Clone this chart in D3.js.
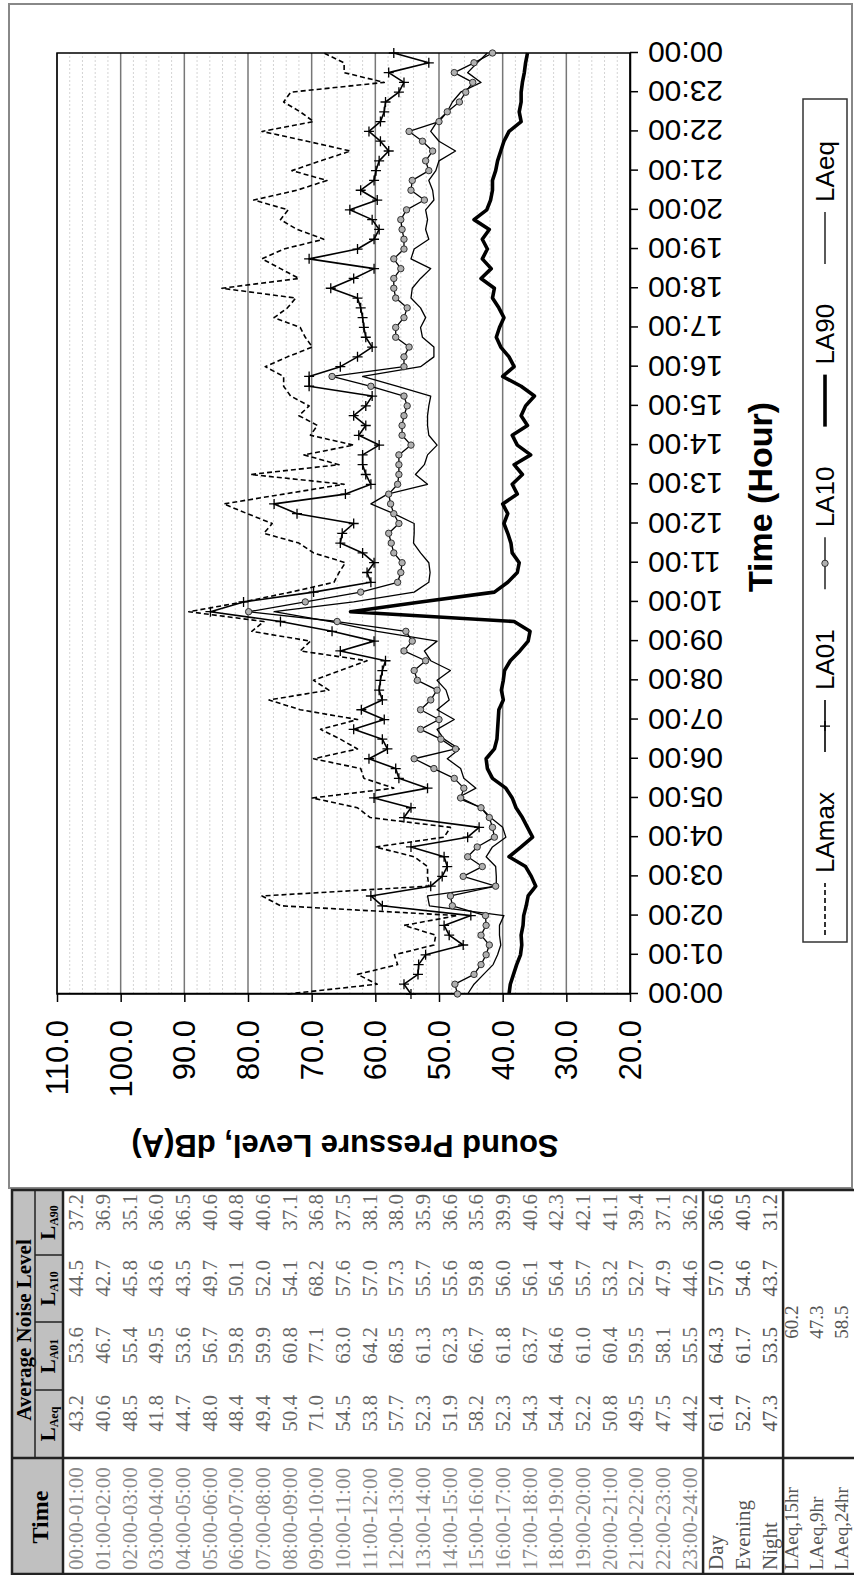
<!DOCTYPE html>
<html>
<head>
<meta charset="utf-8">
<script src="https://cdn.jsdelivr.net/npm/d3@7"></script>
<style>
  body { margin: 0; background: #fff; }
  svg { display: block; }
</style>
</head>
<body>
<div id="chart"></div>
<script>
// ---- data (15 minute samples, 00:00 .. 24:00) ----
const hourLabels = ["00:00","01:00","02:00","03:00","04:00","05:00","06:00","07:00","08:00",
  "09:00","10:00","11:00","12:00","13:00","14:00","15:00","16:00","17:00","18:00","19:00",
  "20:00","21:00","22:00","23:00","00:00"];
const levelTicks = [20, 30, 40, 50, 60, 70, 80, 90, 100, 110];

const laMax = [73.8, 59.7, 62.8, 56.5, 57.0, 50.8, 50.5, 55.5, 47.1, 74.9,
  77.8, 51.6, 51.8, 51.8, 53.9, 60.0, 49.2, 48.2, 60.8, 62.8,
  69.9, 57.1, 61.8, 62.3, 69.7, 62.8, 65.5, 68.6, 62.8, 71.8,
  76.7, 67.3, 69.7, 65.5, 61.3, 71.8, 70.2, 79.4, 77.5, 89.3,
  80.7, 73.3, 66.5, 65.7, 64.7, 69.7, 72.0, 77.5, 76.2, 80.1,
  83.8, 74.4, 64.9, 79.6, 65.7, 71.2, 63.4, 70.2, 69.1, 72.0,
  70.4, 73.3, 74.4, 74.4, 77.3, 73.8, 69.9, 71.0, 71.8, 75.9,
  73.8, 72.5, 84.1, 72.0, 74.9, 77.8, 74.4, 68.1, 72.3, 74.9,
  73.7, 79.1, 72.3, 67.6, 73.1, 68.6, 63.9, 70.7, 77.8, 69.7,
  71.8, 74.4, 73.3, 58.6, 64.9, 64.9, 68.1];
const la01 = [54.4, 55.5, 53.3, 53.2, 52.1, 46.2, 48.4, 49.2, 45.0, 58.9,
  60.7, 51.3, 49.5, 48.7, 49.2, 54.4, 45.5, 43.7, 55.5, 54.4,
  60.2, 51.8, 56.3, 56.8, 61.0, 58.1, 58.9, 63.4, 58.6, 62.2,
  58.9, 59.4, 59.2, 58.9, 58.4, 65.5, 60.2, 66.8, 74.9, 85.9,
  80.7, 69.7, 60.7, 61.3, 60.2, 62.0, 65.5, 65.2, 63.4, 72.3,
  75.9, 64.7, 60.7, 61.5, 62.0, 62.0, 59.4, 62.6, 61.5, 63.4,
  61.5, 60.5, 70.4, 70.4, 65.5, 62.8, 60.5, 61.5, 61.8, 62.0,
  62.3, 62.8, 67.0, 63.4, 60.2, 70.4, 62.8, 60.2, 59.4, 60.5,
  64.0, 59.7, 62.3, 60.2, 59.9, 59.4, 57.9, 59.2, 61.0, 59.2,
  58.6, 58.4, 56.3, 55.5, 57.9, 51.6, 57.1];
const la10 = [47.1, 47.5, 44.5, 43.4, 42.6, 42.1, 43.4, 42.6, 42.7, 47.9,
  48.2, 41.1, 46.2, 43.2, 45.5, 44.0, 41.3, 41.6, 42.1, 43.4,
  46.6, 46.1, 47.6, 50.8, 53.9, 47.4, 49.7, 52.9, 50.0, 52.9,
  51.3, 50.3, 53.4, 53.9, 52.1, 55.5, 54.2, 55.2, 66.0, 79.9,
  71.0, 62.3, 56.5, 56.0, 55.8, 57.1, 57.5, 57.9, 56.3, 57.1,
  57.6, 57.9, 56.5, 56.3, 56.3, 56.3, 54.4, 55.8, 55.8, 55.5,
  55.0, 55.5, 60.7, 66.8, 55.5, 55.5, 54.7, 56.8, 56.8, 55.5,
  55.0, 56.8, 57.1, 57.1, 56.0, 57.1, 55.5, 55.5, 55.8, 56.0,
  55.1, 52.3, 54.4, 54.2, 51.6, 52.1, 51.0, 52.6, 54.7, 50.0,
  48.7, 46.8, 45.8, 44.7, 47.6, 44.5, 41.6];
const la90 = [39.0, 38.8, 38.3, 37.8, 37.2, 37.0, 37.1, 36.8, 36.7, 36.3,
  36.0, 34.8, 35.5, 36.4, 39.0, 37.1, 35.3, 36.1, 36.9, 37.9,
  38.5, 39.5, 41.6, 42.4, 42.6, 41.3, 40.9, 40.8, 40.7, 40.6,
  39.9, 40.2, 39.9, 39.7, 38.8, 37.3, 36.0, 35.7, 38.2, 63.9,
  52.9, 41.3, 39.2, 37.7, 37.4, 38.5, 38.7, 39.2, 39.8, 39.2,
  40.0, 37.7, 38.5, 36.9, 38.2, 35.6, 37.7, 38.5, 36.1, 37.1,
  36.4, 35.0, 37.1, 40.0, 38.2, 39.0, 40.3, 41.0, 40.5, 39.8,
  40.6, 41.6, 41.3, 43.4, 41.8, 43.2, 42.4, 43.2, 42.1, 44.5,
  42.5, 41.9, 41.6, 41.6, 41.1, 40.8, 40.3, 39.8, 39.0, 37.1,
  37.4, 37.1, 37.1, 36.9, 36.6, 36.4, 36.1];
const laEq = [45.5, 44.5, 43.0, 41.5, 40.8, 40.3, 40.5, 40.5, 39.8, 51.5,
  51.8, 41.0, 41.0, 41.1, 42.6, 41.6, 39.5, 40.0, 41.9, 43.4,
  47.1, 44.2, 46.1, 46.6, 48.7, 46.8, 49.2, 50.3, 47.6, 50.3,
  48.4, 48.9, 50.3, 48.2, 51.3, 52.3, 50.3, 59.7, 67.0, 75.9,
  63.4, 53.9, 51.6, 51.4, 51.6, 52.9, 54.0, 53.9, 53.9, 57.1,
  60.7, 58.1, 51.8, 53.7, 52.3, 51.8, 50.3, 51.6, 51.8, 51.8,
  51.6, 51.3, 56.5, 62.0, 52.9, 50.8, 50.8, 52.6, 52.9, 52.1,
  52.9, 54.4, 54.2, 52.9, 51.3, 54.4, 53.9, 51.6, 52.1, 51.8,
  52.1, 50.8, 51.0, 51.6, 50.5, 50.0, 47.4, 50.0, 51.3, 50.3,
  48.7, 47.9, 46.6, 43.4, 45.5, 44.0, 42.4];

// ---- table data ----
const timeRanges = ["00:00-01:00","01:00-02:00","02:00-03:00","03:00-04:00","04:00-05:00",
  "05:00-06:00","06:00-07:00","07:00-08:00","08:00-09:00","09:00-10:00","10:00-11:00",
  "11:00-12:00","12:00-13:00","13:00-14:00","14:00-15:00","15:00-16:00","16:00-17:00",
  "17:00-18:00","18:00-19:00","19:00-20:00","20:00-21:00","21:00-22:00","22:00-23:00",
  "23:00-24:00"];
const hrLAeq = [43.2, 40.6, 48.5, 41.8, 44.7, 48.0, 48.4, 49.4, 50.4, 71.0, 54.5, 53.8,
  57.7, 52.3, 51.9, 58.2, 52.3, 54.3, 54.4, 52.2, 50.8, 49.5, 47.5, 44.2];
const hrLA01 = [53.6, 46.7, 55.4, 49.5, 53.6, 56.7, 59.8, 59.9, 60.8, 77.1, 63.0, 64.2,
  68.5, 61.3, 62.3, 66.7, 61.8, 63.7, 64.6, 61.0, 60.4, 59.5, 58.1, 55.5];
const hrLA10 = [44.5, 42.7, 45.8, 43.6, 43.5, 49.7, 50.1, 52.0, 54.1, 68.2, 57.6, 57.0,
  57.3, 55.7, 55.6, 59.8, 56.0, 56.1, 56.4, 55.7, 53.2, 52.7, 47.9, 44.6];
const hrLA90 = [37.2, 36.9, 35.1, 36.0, 36.5, 40.6, 40.8, 40.6, 37.1, 36.8, 37.5, 38.1,
  38.0, 35.9, 36.6, 35.6, 39.9, 40.6, 42.3, 42.1, 41.1, 39.4, 37.1, 36.2];
const periodNames = ["Day", "Evening", "Night"];
const periodLAeq = [61.4, 52.7, 47.3];
const periodLA01 = [64.3, 61.7, 53.5];
const periodLA10 = [57.0, 54.6, 43.7];
const periodLA90 = [36.6, 40.5, 31.2];
const summaryNames = ["LAeq,15hr", "LAeq,9hr", "LAeq,24hr"];
const summaryValues = [60.2, 47.3, 58.5];

const W = 854, H = 1575;
const fmt = d3.format(".1f");

const svg = d3.select("#chart").append("svg")
  .attr("width", W).attr("height", H);
svg.append("rect").attr("width", W).attr("height", H).attr("fill", "#fff");

// the page is laid out landscape (1575 x 854) and turned a quarter turn anticlockwise
const page = svg.append("g").attr("transform", `translate(0,${H}) rotate(-90)`);

// chart frame
page.append("rect")
  .attr("x", 387).attr("y", 9).attr("width", 1184).attr("height", 843)
  .attr("fill", "none").attr("stroke", "#888").attr("stroke-width", 2);

const plot = { left: 581, right: 1522, top: 57, bottom: 630 };
const x = d3.scaleLinear().domain([0, 24]).range([plot.left, plot.right]);
const y = d3.scaleLinear().domain([20, 110]).range([plot.bottom, plot.top]);

// minor grid every 2 dB
page.append("g")
  .selectAll("line")
  .data(d3.range(22, 110, 2).filter((v) => v % 10 !== 0))
  .join("line")
  .attr("x1", plot.left).attr("x2", plot.right)
  .attr("y1", (d) => y(d)).attr("y2", (d) => y(d))
  .attr("stroke", "#d4d4d4").attr("stroke-width", 1)
  .attr("stroke-dasharray", "2,2");

// major grid
page.append("g")
  .selectAll("line")
  .data(levelTicks)
  .join("line")
  .attr("x1", plot.left).attr("x2", plot.right)
  .attr("y1", (d) => y(d)).attr("y2", (d) => y(d))
  .attr("stroke", "#777").attr("stroke-width", 1.5);

page.append("rect")
  .attr("x", plot.left).attr("y", plot.top)
  .attr("width", plot.right - plot.left).attr("height", plot.bottom - plot.top)
  .attr("fill", "none").attr("stroke", "#000").attr("stroke-width", 1.5);

// X axis (time), labels turned vertical
page.append("g")
  .attr("transform", `translate(0,${plot.bottom})`)
  .call(d3.axisBottom(x).tickValues(d3.range(0, 25)).tickFormat((i) => hourLabels[i])
    .tickSizeInner(8).tickSizeOuter(0))
  .attr("font-family", "'Liberation Sans', Arial, sans-serif")
  .attr("font-size", 30)
  .call((g) => g.select(".domain").attr("stroke", "#000").attr("stroke-width", 1.5))
  .call((g) => g.selectAll(".tick line").attr("stroke", "#000").attr("stroke-width", 1.5))
  .selectAll("text")
  .attr("y", 0).attr("dy", null)
  .attr("transform", "translate(0,18) rotate(-90)")
  .attr("text-anchor", "end")
  .attr("dominant-baseline", "central")
  .attr("fill", "#000");

// Y axis (level)
page.append("g")
  .attr("transform", `translate(${plot.left},0)`)
  .call(d3.axisLeft(y).tickValues(levelTicks).tickFormat(fmt)
    .tickSizeInner(8).tickSizeOuter(0).tickPadding(18))
  .attr("font-family", "'Liberation Sans', Arial, sans-serif")
  .attr("font-size", 31)
  .call((g) => g.select(".domain").attr("stroke", "#000").attr("stroke-width", 1.5))
  .call((g) => g.selectAll(".tick line").attr("stroke", "#000").attr("stroke-width", 1.5))
  .selectAll("text")
  .attr("dy", null)
  .attr("dominant-baseline", "central")
  .attr("fill", "#000");

// axis titles
page.append("text")
  .attr("transform", "translate(430,345) rotate(-90)")
  .attr("text-anchor", "middle").attr("dominant-baseline", "central")
  .attr("font-family", "'Liberation Sans', Arial, sans-serif")
  .attr("font-weight", "bold").attr("font-size", 31)
  .text("Sound Pressure Level, dB(A)");

page.append("text")
  .attr("x", 1078).attr("y", 760)
  .attr("text-anchor", "middle").attr("dominant-baseline", "central")
  .attr("font-family", "'Liberation Sans', Arial, sans-serif")
  .attr("font-weight", "bold").attr("font-size", 34)
  .text("Time (Hour)");

// series
const series = [
  { name: "LAmax", values: laMax, width: 1.6, dash: "5,3", marker: null },
  { name: "LA01", values: la01, width: 1.6, dash: null, marker: "plus" },
  { name: "LA10", values: la10, width: 1.3, dash: null, marker: "circle" },
  { name: "LA90", values: la90, width: 3.6, dash: null, marker: null },
  { name: "LAeq", values: laEq, width: 1.3, dash: null, marker: null },
];

const line = d3.line()
  .x((d, i) => x(i / 4))
  .y((d) => y(d));

const lines = page.append("g").attr("fill", "none");
series.forEach((s) => {
  lines.append("path")
    .datum(s.values)
    .attr("d", line)
    .attr("stroke", "#000")
    .attr("stroke-width", s.width)
    .attr("stroke-dasharray", s.dash)
    .attr("stroke-linejoin", "round");
});

function drawMarkers(g, s, pts) {
  if (s.marker === "plus") {
    g.selectAll("path.mk")
      .data(pts)
      .join("path")
      .attr("class", "mk")
      .attr("d", (d) => `M${d[0] - 5},${d[1]}h10M${d[0]},${d[1] - 5}v10`)
      .attr("stroke", "#000").attr("stroke-width", 1.3);
  } else if (s.marker === "circle") {
    g.selectAll("circle.mk")
      .data(pts)
      .join("circle")
      .attr("class", "mk")
      .attr("cx", (d) => d[0]).attr("cy", (d) => d[1])
      .attr("r", 3.2)
      .attr("fill", "#b0b0b0").attr("stroke", "#333").attr("stroke-width", 1);
  }
}

series.forEach((s) => {
  if (!s.marker) return;
  const g = page.append("g");
  drawMarkers(g, s, s.values.map((v, i) => [x(i / 4), y(v)]));
});

// legend
const legend = page.append("g")
  .attr("font-family", "'Liberation Sans', Arial, sans-serif")
  .attr("font-size", 26);
legend.append("rect")
  .attr("x", 633).attr("y", 803).attr("width", 843).attr("height", 44)
  .attr("fill", "#fff").attr("stroke", "#333").attr("stroke-width", 1.5);

let lx = 640;
const ly = 825;
series.forEach((s) => {
  const item = legend.append("g");
  item.append("line")
    .attr("x1", lx).attr("x2", lx + 52).attr("y1", ly).attr("y2", ly)
    .attr("stroke", "#000").attr("stroke-width", s.width)
    .attr("stroke-dasharray", s.dash);
  drawMarkers(item, s, [[lx + 26, ly]]);
  const t = item.append("text")
    .attr("x", lx + 62).attr("y", ly)
    .attr("dominant-baseline", "central")
    .text(s.name);
  lx += 62 + t.node().getComputedTextLength() + 40;
});

// ---- table ----
const tbl = page.append("g")
  .attr("font-family", "'Liberation Serif', 'Times New Roman', serif");
const tTop = 12, tSplit = 35, tHead = 63, rowH = 26.67;
const colEdges = [0, 117, 185, 253, 320, 385];
const valueRight = [180, 248, 315, 381];
const subLabels = ["Aeq", "A01", "A10", "A90"];

tbl.append("rect").attr("x", 0).attr("y", tTop).attr("width", 117).attr("height", tHead - tTop)
  .attr("fill", "#c0c0c0");
tbl.append("rect").attr("x", 117).attr("y", tTop).attr("width", 268).attr("height", tHead - tTop)
  .attr("fill", "#c0c0c0");

tbl.append("text")
  .attr("x", 58).attr("y", 40)
  .attr("text-anchor", "middle").attr("dominant-baseline", "central")
  .attr("font-weight", "bold").attr("font-size", 24)
  .text("Time");
tbl.append("text")
  .attr("x", 245).attr("y", 24)
  .attr("text-anchor", "middle").attr("dominant-baseline", "central")
  .attr("font-weight", "bold").attr("font-size", 21)
  .text("Average Noise Level");

subLabels.forEach((s, i) => {
  const t = tbl.append("text")
    .attr("x", (colEdges[i + 1] + colEdges[i + 2]) / 2).attr("y", 55)
    .attr("text-anchor", "middle")
    .attr("font-weight", "bold").attr("font-size", 21);
  t.append("tspan").text("L");
  t.append("tspan").attr("font-size", 12).attr("dy", 3).text(s);
});

const hourly = [hrLAeq, hrLA01, hrLA10, hrLA90];
timeRanges.forEach((tr, k) => {
  const cy = tHead + rowH * k + rowH / 2;
  tbl.append("text")
    .attr("x", 5).attr("y", cy)
    .attr("dominant-baseline", "central")
    .attr("font-size", 21).attr("fill", "#8a8a8a")
    .text(tr);
  hourly.forEach((col, c) => {
    tbl.append("text")
      .attr("x", valueRight[c]).attr("y", cy)
      .attr("text-anchor", "end").attr("dominant-baseline", "central")
      .attr("font-size", 21).attr("fill", "#666")
      .text(fmt(col[k]));
  });
});

const pTop = tHead + rowH * 24;
const periodCols = [periodLAeq, periodLA01, periodLA10, periodLA90];
periodNames.forEach((p, k) => {
  const cy = pTop + rowH * k + rowH / 2;
  tbl.append("text")
    .attr("x", 5).attr("y", cy)
    .attr("dominant-baseline", "central")
    .attr("font-size", 21).attr("fill", "#555")
    .text(p);
  periodCols.forEach((col, c) => {
    tbl.append("text")
      .attr("x", valueRight[c]).attr("y", cy)
      .attr("text-anchor", "end").attr("dominant-baseline", "central")
      .attr("font-size", 21).attr("fill", "#555")
      .text(fmt(col[k]));
  });
});

// summary rows packed a little tighter so the last one stays on the page
const sTop = pTop + rowH * 3;
summaryNames.forEach((s, k) => {
  const cy = sTop + 8 + 25 * k;
  tbl.append("text")
    .attr("x", 5).attr("y", cy)
    .attr("dominant-baseline", "central")
    .attr("font-size", 19).attr("fill", "#555")
    .text(s);
  tbl.append("text")
    .attr("x", 253).attr("y", cy)
    .attr("text-anchor", "middle").attr("dominant-baseline", "central")
    .attr("font-size", 19).attr("fill", "#555")
    .text(fmt(summaryValues[k]));
});

// table rules
const rules = tbl.append("g").attr("stroke", "#222");
rules.append("rect")
  .attr("x", 1).attr("y", tTop).attr("width", 384).attr("height", 900)
  .attr("fill", "none").attr("stroke-width", 2.5);
rules.append("line").attr("x1", 117).attr("x2", 117).attr("y1", tTop).attr("y2", 912)
  .attr("stroke-width", 2.5);
rules.append("line").attr("x1", 117).attr("x2", 385).attr("y1", tSplit).attr("y2", tSplit)
  .attr("stroke-width", 1.5);
[tHead, pTop, sTop].forEach((yy) => {
  rules.append("line").attr("x1", 0).attr("x2", 385).attr("y1", yy).attr("y2", yy)
    .attr("stroke-width", 2.5);
});
[185, 253, 320].forEach((xx) => {
  rules.append("line").attr("x1", xx).attr("x2", xx).attr("y1", tSplit).attr("y2", tHead)
    .attr("stroke-width", 1.5);
});
</script>
</body>
</html>
